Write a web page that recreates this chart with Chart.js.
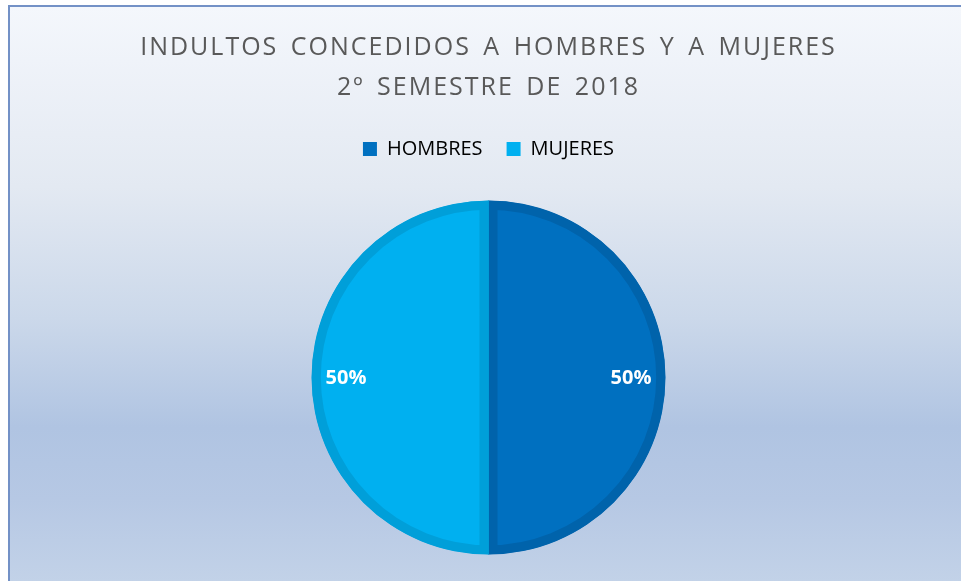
<!DOCTYPE html>
<html>
<head>
<meta charset="utf-8">
<script src="https://cdn.jsdelivr.net/npm/chart.js@4/dist/chart.umd.min.js"></script>
<style>
  html, body { margin: 0; padding: 0; background: #ffffff; }
  body { width: 961px; height: 581px; position: relative; overflow: hidden; }
  .frame {
    position: absolute; left: 8px; top: 5px; width: 970px; height: 600px;
    border-left: 2px solid #7391c6; border-top: 2px solid #7391c6;
    background: linear-gradient(to bottom, #f4f7fc 0%, #e3e9f2 30%, #cbd8ea 52%, #b0c4e2 70%, #b6c8e4 82%, #c6d5e9 100%);
  }
  #chartBox { position: absolute; left: 0; top: 0; width: 961px; height: 581px; }
</style>
</head>
<body>
<div class="frame"></div>
<div id="chartBox"><canvas id="pieChart"></canvas></div>
<script>
// Chart data
const TITLE_LINES = ['INDULTOS CONCEDIDOS A HOMBRES Y A MUJERES', '2º SEMESTRE DE 2018'];
const CATEGORIES = ['HOMBRES', 'MUJERES'];
const VALUES = [50, 50];
const FILL_COLORS = ['#0070c0', '#00b0f0'];
const EDGE_COLORS = ['#0063ab', '#009fd9'];

const TEXT_GREY = '#595959';

/**
 * Title spacing (Excel style spaced caps) and a bit more room under the legend
 */
const layoutTweaks = {
  id: 'layoutTweaks',
  beforeLayout(chart) {
    const legend = chart.legend;
    if (legend && !legend._tweaked) {
      const fit = legend.fit.bind(legend);
      legend.fit = function() {
        fit();
        this.height += 5;
      };
      legend._tweaked = true;
    }
  },
  beforeDraw(chart) {
    const block = chart.titleBlock;
    if (!block || block._spaced) return;
    const orig = block.draw.bind(block);
    block.draw = function(area) {
      const ctx = chart.ctx;
      ctx.save();
      ctx.letterSpacing = '2px';
      ctx.wordSpacing = '4px';
      orig(area);
      ctx.restore();
    };
    block._spaced = true;
  }
};

/**
 * Percentage labels inside the slices
 */
const sliceLabels = {
  id: 'sliceLabels',
  afterDatasetsDraw(chart) {
    const ctx = chart.ctx;
    const meta = chart.getDatasetMeta(0);
    const data = chart.data.datasets[0].data;
    const total = data.reduce((a, b) => a + b, 0);
    ctx.save();
    ctx.font = 'bold 20px "Open Sans"';
    ctx.fillStyle = '#ffffff';
    ctx.textAlign = 'center';
    ctx.textBaseline = 'middle';
    meta.data.forEach((arc, i) => {
      const p = arc.getProps(['x', 'y', 'startAngle', 'endAngle', 'outerRadius'], true);
      const mid = (p.startAngle + p.endAngle) / 2;
      const r = p.outerRadius * 0.805;
      const pct = Math.round(data[i] / total * 100) + '%';
      ctx.fillText(pct, p.x + Math.cos(mid) * r, p.y + Math.sin(mid) * r + 1);
    });
    ctx.restore();
  }
};

document.addEventListener('DOMContentLoaded', () => {
  initPieChart();
});

function initPieChart() {
  const ctx = document.getElementById('pieChart');

  new Chart(ctx, {
    type: 'pie',
    data: {
      labels: CATEGORIES,
      datasets: [{
        data: VALUES,
        backgroundColor: FILL_COLORS,
        borderColor: EDGE_COLORS,
        borderWidth: 9,
        borderAlign: 'inner',
        borderJoinStyle: 'miter'
      }]
    },
    options: {
      responsive: true,
      maintainAspectRatio: false,
      animation: false,
      radius: 177,
      layout: {
        padding: { left: 16, right: 0, top: 0, bottom: 0 }
      },
      plugins: {
        title: {
          display: true,
          text: TITLE_LINES,
          color: TEXT_GREY,
          font: { family: '"Open Sans"', size: 25, weight: 'normal', lineHeight: 1.6 },
          padding: { top: 28, bottom: 7 }
        },
        legend: {
          position: 'top',
          labels: {
            color: TEXT_GREY,
            font: { family: '"Open Sans"', size: 20 },
            boxWidth: 14,
            boxHeight: 14,
            padding: 24,
            generateLabels: () => CATEGORIES.map((name, i) => ({
              text: name,
              fillStyle: FILL_COLORS[i],
              strokeStyle: FILL_COLORS[i],
              lineWidth: 0,
              index: i
            }))
          }
        },
        tooltip: { enabled: false }
      }
    },
    plugins: [layoutTweaks, sliceLabels]
  });
}
</script>
</body>
</html>
